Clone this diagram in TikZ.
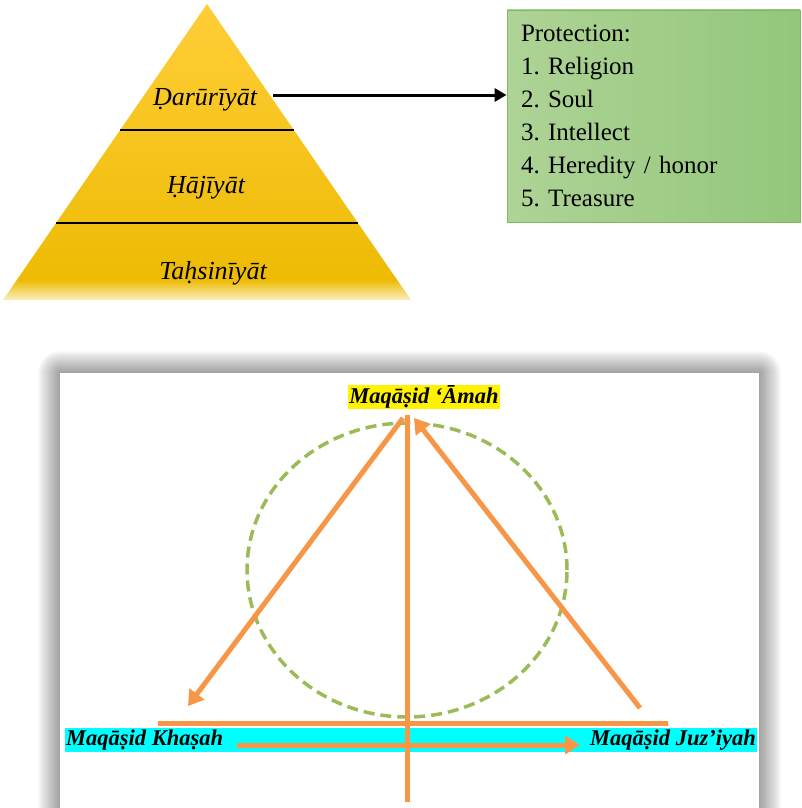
\documentclass[tikz,border=0pt]{standalone}
\usepackage{fontspec}
\setmainfont{Liberation Serif}
\usetikzlibrary{positioning, arrows.meta, fadings}
\frenchspacing

\definecolor{pyrtop}{RGB}{255,206,56}
\definecolor{pyrbot}{RGB}{236,186,0}
\definecolor{boxleft}{RGB}{174,211,150}
\definecolor{boxright}{RGB}{147,199,123}
\definecolor{boxline}{RGB}{128,184,98}
\definecolor{orng}{RGB}{247,150,70}
\definecolor{dashgreen}{RGB}{155,187,89}
\definecolor{bandcyan}{RGB}{0,255,255}

\tikzfading[name=fadeup, top color=transparent!100, bottom color=transparent!0]

\tikzset{
  level/.style={font=\fontsize{26}{28}\selectfont\itshape, inner sep=2pt},
  maqasid/.style={font=\fontsize{22.5}{24}\selectfont\bfseries\itshape, inner sep=1pt},
  protbox/.style={left color=boxleft, right color=boxright, draw=boxline, line width=0.8pt,
    minimum width=293pt, minimum height=212pt, text width=265pt, inner xsep=14pt,
    align=left, font=\fontsize{25}{33}\selectfont},
  orngline/.style={draw=orng, line width=5pt},
  orngarrow/.style={orngline, -{Triangle[width=18pt,length=15pt]}}
}

\begin{document}
\begin{tikzpicture}[x=1pt, y=-1pt]
    \useasboundingbox (0,0) rectangle (801,808);
    \clip (0,0) rectangle (801,808);

    % pyramid
    \coordinate (apex) at (207,4);
    \coordinate (bl) at (3,300);
    \coordinate (br) at (411,300);
    \shade[top color=pyrtop, bottom color=pyrbot] (apex) -- (br) -- (bl) -- cycle;
    \fill[white, path fading=fadeup] (0,280) rectangle (420,306);
    \draw[line width=2.2pt] (120,130) -- (294,130);
    \draw[line width=2.2pt] (56,223) -- (358,223);

    \node[level] (darur) at (205,100) {Ḍarūrīyāt};
    \node[level] (hajiy) at (206,188) {Ḥājīyāt};
    \node[level] (tahsin) at (213,273) {Taḥsinīyāt};

    % protection box
    \node[protbox] (prot) at (653.5,116) {Protection:\\1. Religion\\2. Soul\\3. Intellect\\4. Heredity / honor\\5. Treasure};
    \coordinate (from) at (273,95);
    \draw[line width=3pt, -{Triangle[width=13pt,length=12pt]}] (from) -- (from -| prot.west);

    % lower frame with shadow
    \foreach \d in {1,...,22}
        \fill[black, opacity=0.018, rounded corners=\d pt] (60-\d,373-\d) rectangle (759+\d,830);
    \fill[white] (60,373) rectangle (759,830);

    \draw[dashgreen, line width=3.5pt, dash pattern=on 11pt off 6pt] (407,570) ellipse [x radius=160pt, y radius=147pt];
    \fill[bandcyan] (65,728) rectangle (757,752);

    \node[maqasid, fill=yellow] (amah) at (424,397) {Maqāṣid ‘Āmah};
    \node[maqasid, anchor=west] (khasah) at (65,740) {Maqāṣid Khaṣah};
    \node[maqasid, anchor=east] (juz) at (757,740) {Maqāṣid Juz’iyah};

    \coordinate (peak) at (407,415);
    \coordinate (foot) at (407,802);
    \coordinate (lefttop) at (403,418);
    \coordinate (leftend) at (188,706);
    \coordinate (rightstart) at (640,708);
    \coordinate (righttop) at (414,418);
    \coordinate (hl) at (158,723);
    \coordinate (hr) at (668,723);
    \coordinate (al) at (237,745);
    \coordinate (ar) at (580,745);

    \draw[orngline] (peak) -- (foot);
    \draw[orngline] (hl) -- (hr);
    \draw[orngarrow] (lefttop) -- (leftend);
    \draw[orngarrow] (rightstart) -- (righttop);
    \draw[orngarrow] (al) -- (ar);
\end{tikzpicture}
\end{document}
